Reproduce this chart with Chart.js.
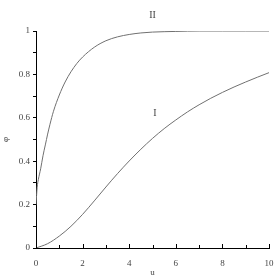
<!DOCTYPE html>
<html><head><meta charset="utf-8">
<script src="https://cdn.jsdelivr.net/npm/chart.js@4"></script>
<style>html,body{margin:0;padding:0;background:#fff;}#w{width:278px;height:278px;}</style>
</head><body><div id="w"><canvas id="c" width="278" height="278"></canvas></div>
<script>
const uI = [0,0.5,1,1.5,2,2.5,3,3.5,4,4.5,5,5.5,6,6.5,7,7.5,8,8.5,9,9.5,10];
const phiI = [0,0.02,0.055,0.1,0.155,0.217,0.281,0.343,0.401,0.455,0.505,0.55,0.59,0.627,0.66,0.69,0.717,0.742,0.765,0.787,0.808];
const uII = [0,0.05,0.1,0.2,0.3,0.4,0.5,0.6,0.75,1,1.25,1.5,1.75,2,2.5,3,3.5,4,4.5,5,6,7,8,9,10];
const phiII = [0.2,0.28,0.315,0.365,0.425,0.475,0.525,0.57,0.63,0.705,0.765,0.812,0.85,0.88,0.925,0.955,0.973,0.984,0.991,0.995,0.998,1,1,1,1];
const xTicks = [0,2,4,6,8,10];
const yTicks = [0,0.2,0.4,0.6,0.8,1];
const curveLabels = [{text:'I', u:5.1, phi:0.62},{text:'II', u:5.0, phi:1.07}];

const serif = 'Liberation Serif';
const labelPlugin = {
  id:'extras',
  afterDraw(chart){
    const ctx = chart.ctx, xs = chart.scales.x, ys = chart.scales.y;
    ctx.save();
    ctx.strokeStyle = '#000'; ctx.lineWidth = 1;
    for(let v=0; v<=10; v+=1){
      const px = Math.round(xs.getPixelForValue(v))+0.5;
      ctx.beginPath(); ctx.moveTo(px, ys.bottom); ctx.lineTo(px, ys.bottom - (v%2===0?4:3)); ctx.stroke();
    }
    ctx.fillStyle = '#444';
    ctx.font = '10px "'+serif+'"';
    ctx.textAlign='center'; ctx.textBaseline='middle';
    curveLabels.forEach(l=>{
      ctx.fillText(l.text, xs.getPixelForValue(l.u), ys.getPixelForValue(l.phi));
    });
    ctx.restore();
  }
};

new Chart(document.getElementById('c'), {
  type:'scatter',
  data:{datasets:[
    {data:uI.map((u,i)=>({x:u,y:phiI[i]})), showLine:true, borderColor:'#707070', borderWidth:1, pointRadius:0, cubicInterpolationMode:'monotone'},
    {data:uII.map((u,i)=>({x:u,y:phiII[i]})), showLine:true, borderColor:'#707070', borderWidth:1, pointRadius:0, cubicInterpolationMode:'monotone'}
  ]},
  options:{
    responsive:false, animation:false, devicePixelRatio:1,
    layout:{padding:{top:31,right:9,left:0,bottom:0}},
    plugins:{legend:{display:false}, tooltip:{enabled:false}},
    scales:{
      x:{type:'linear', min:0, max:10,
        afterFit(s){ s.height = 30; },
        afterBuildTicks(s){ s.ticks = [0,1,2,3,4,5,6,7,8,9,10].map(v=>({value:v})); },
        grid:{display:false},
        border:{display:true, color:'#000', width:1},
        ticks:{autoSkip:false, maxRotation:0, padding:2, color:'#444', font:{family:serif,size:9},
          callback:(v)=> xTicks.includes(v) ? String(v) : ''},
        title:{display:true, text:'u', color:'#444', font:{family:serif,size:9}, padding:{top:2,bottom:0}}
      },
      y:{type:'linear', min:0, max:1,
        afterFit(s){ s.width = 36; },
        afterBuildTicks(s){ s.ticks = [0,0.1,0.2,0.3,0.4,0.5,0.6,0.7,0.8,0.9,1].map(v=>({value:v})); },
        grid:{drawOnChartArea:false, drawTicks:true, tickLength:3, color:'#000', tickColor:'#000'},
        border:{display:true, color:'#000', width:1},
        ticks:{autoSkip:false, padding:3, color:'#444', font:{family:serif,size:9},
          callback:(v)=>{ const r=Math.round(v*10)/10; return yTicks.some(t=>Math.abs(t-r)<1e-9) ? String(r) : ''; }},
        title:{display:true, text:'φ', color:'#444', font:{family:serif,size:9}, padding:{top:0,bottom:0}}
      }
    }
  },
  plugins:[labelPlugin]
});
</script></body></html>
